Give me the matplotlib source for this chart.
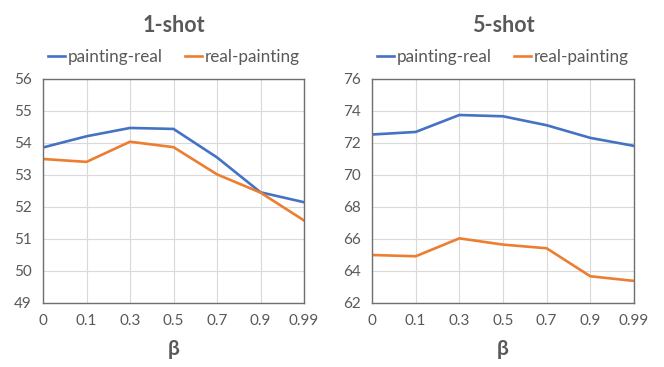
import matplotlib
matplotlib.use("Agg")
import matplotlib.pyplot as plt

plt.rcParams['font.family'] = ['Lato', 'DejaVu Sans']

betas = ["0", "0.1", "0.3", "0.5", "0.7", "0.9", "0.99"]
one_shot_pr = [53.86, 54.21, 54.47, 54.44, 53.55, 52.46, 52.15]
one_shot_rp = [53.50, 53.41, 54.04, 53.87, 53.02, 52.45, 51.58]
five_shot_pr = [72.53, 72.69, 73.75, 73.67, 73.11, 72.32, 71.82]
five_shot_rp = [65.00, 64.92, 66.04, 65.65, 65.42, 63.67, 63.38]

BLUE = "#4472C4"
ORANGE = "#ED7D31"
TXT = "#595959"
GRID = "#D9D9D9"

W, H = 664, 367
fig = plt.figure(figsize=(W/100, H/100), dpi=100)
ax1 = fig.add_axes([43/W, 1-303/H, 261/W, 224/H])
ax2 = fig.add_axes([372/W, 1-303/H, 262/W, 224/H])

def style(ax, title, pr, rp, ylim, yticks):
    x = list(range(len(betas)))
    ax.plot(x, pr, color=BLUE, lw=1.9, label="painting-real")
    ax.plot(x, rp, color=ORANGE, lw=1.9, label="real-painting")
    ax.set_xlim(0, len(betas)-1)
    ax.set_ylim(*ylim)
    ax.set_yticks(yticks)
    ax.set_xticks(x)
    ax.set_xticklabels(betas)
    ax.grid(True, color=GRID, lw=0.8)
    ax.set_axisbelow(True)
    for s in ax.spines.values():
        s.set_color("#6f6f6f")
        s.set_linewidth(1.0)
    ax.tick_params(length=0, labelsize=11, colors=TXT, pad=8)
    ax.tick_params(axis='x', pad=8)
    bb = ax.get_position()
    cx = (bb.x0 + bb.x1) / 2
    fig.text(cx, 1-25/H, title, ha='center', va='center', fontsize=15.5,
             fontweight='bold', color=TXT)
    fig.text(cx, 1-349/H, "β", ha='center', va='center', fontsize=15,
             fontweight='bold', color=TXT)
    leg = ax.legend(loc='center', bbox_to_anchor=(cx, 1-57/H),
                    bbox_transform=fig.transFigure, ncol=2, frameon=False,
                    fontsize=12.3, handlelength=1.0, handletextpad=0.15,
                    columnspacing=1.3, borderaxespad=0, borderpad=0)
    for t in leg.get_texts():
        t.set_color(TXT)

style(ax1, "1-shot", one_shot_pr, one_shot_rp, (49, 56), range(49, 57))
style(ax2, "5-shot", five_shot_pr, five_shot_rp, (62, 76), range(62, 77, 2))

fig.savefig("out.png", dpi=100, facecolor='white')
